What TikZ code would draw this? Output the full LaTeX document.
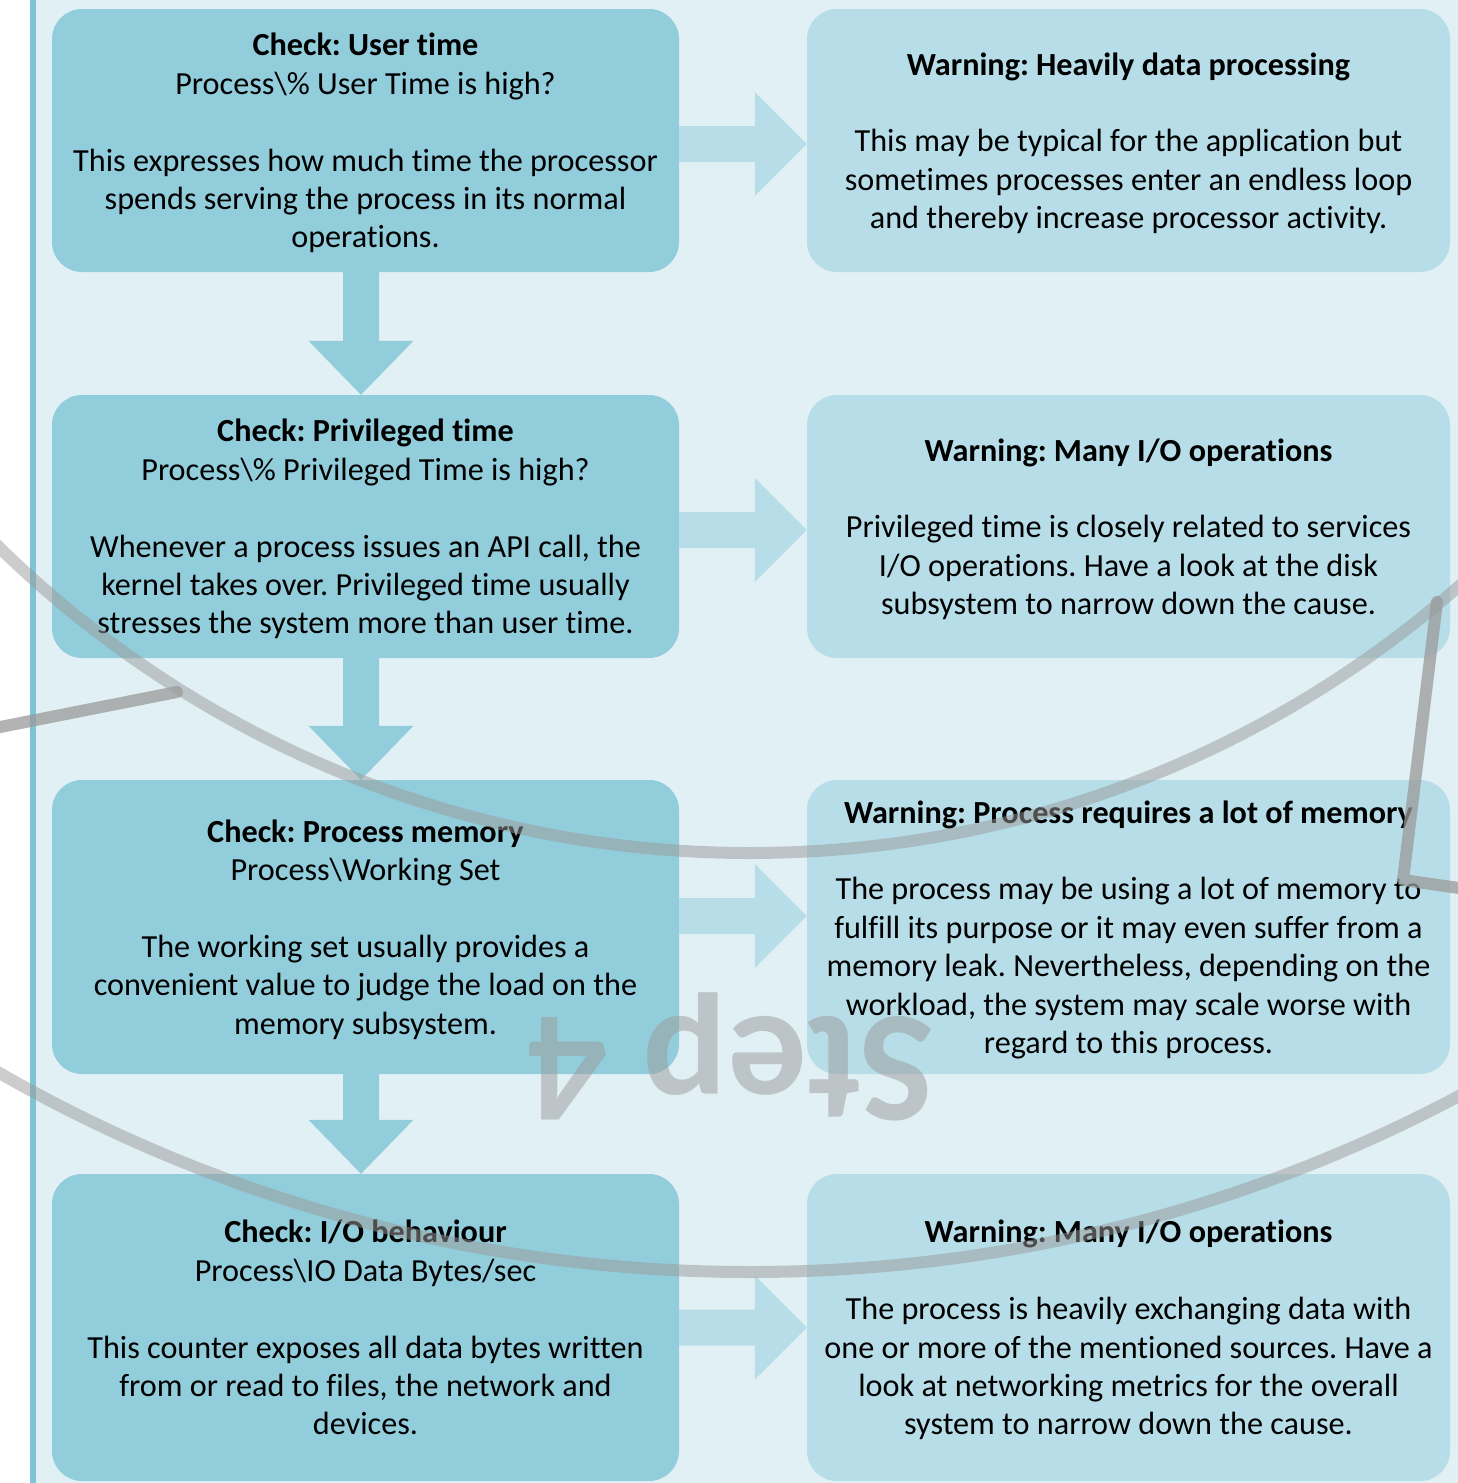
\documentclass[tikz,border=0pt]{standalone}
\usepackage{fontspec}
\setmainfont{Carlito}[Ligatures=NoCommon]
\frenchspacing
\usetikzlibrary{calc}
\definecolor{panel}{HTML}{E1F0F5}
\definecolor{edgebar}{HTML}{7FC4D4}
\definecolor{checkfill}{HTML}{92CDDC}
\definecolor{warnfill}{HTML}{B7DEE8}
\definecolor{overlay}{HTML}{9A9A9A}
% fixed height/depth so every text block sits the same way in its box
\newcommand\boxtopstrut{\rule{0pt}{28.5pt}}
\newcommand\boxbotstrut{\rule[-5.9pt]{0pt}{5.9pt}}

\begin{document}
\begin{tikzpicture}[x=1pt,y=-1pt,
  box/.style={rounded corners=30pt, inner sep=0pt, align=center,
    font=\fontsize{32.2}{38.4}\selectfont, text=black},
  checkbox/.style={box, fill=checkfill, minimum width=627pt},
  warnbox/.style={box, fill=warnfill, minimum width=643pt},
  rarrow/.style={fill=warnfill},
  darrow/.style={fill=checkfill},
  swoop/.style={draw=overlay, draw opacity=0.5, line width=12pt},
  frameline/.style={draw=overlay, draw opacity=0.75, line width=12pt,
    line cap=round, line join=round},
]
\useasboundingbox (0,0) rectangle (1458,1483);
\fill[white] (0,0) rectangle (1458,1483);
\fill[panel] (36,0) rectangle (1458,1483);
\fill[edgebar] (30,0) rectangle (36,1483);

% checks (left column)
\node[checkbox, minimum height=263pt] (L1) at (365.5,140.5)
  {\boxtopstrut\textbf{Check: User time}\\Process\textbackslash\% User Time is high?\\[38.4pt]
   This expresses how much time the processor\\spends serving the process in its normal\\operations.\boxbotstrut};
\node[checkbox, minimum height=263pt] (L2) at (365.5,526.5)
  {\boxtopstrut\textbf{Check: Privileged time}\\Process\textbackslash\% Privileged Time is high?\\[38.4pt]
   Whenever a process issues an API call, the\\kernel takes over. Privileged time usually\\stresses the system more than user time.\boxbotstrut};
\node[checkbox, minimum height=294pt] (L3) at (365.5,927)
  {\boxtopstrut\textbf{Check: Process memory}\\Process\textbackslash Working Set\\[38.4pt]
   The working set usually provides a\\convenient value to judge the load on the\\memory subsystem.\boxbotstrut};
\node[checkbox, minimum height=307pt] (L4) at (365.5,1327.5)
  {\boxtopstrut\textbf{Check: I/O behaviour}\\Process\textbackslash IO Data Bytes/sec\\[38.4pt]
   This counter exposes all data bytes written\\from or read to files, the network and\\devices.\boxbotstrut};

% warnings (right column)
\node[warnbox, minimum height=263pt] (R1) at (1128.5,140.5)
  {\boxtopstrut\textbf{Warning: Heavily data processing}\\[38.4pt]
   This may be typical for the application but\\sometimes processes enter an endless loop\\and thereby increase processor activity.\boxbotstrut};
\node[warnbox, minimum height=263pt] (R2) at (1128.5,526.5)
  {\boxtopstrut\textbf{Warning: Many I/O operations}\\[38.4pt]
   Privileged time is closely related to services\\I/O operations. Have a look at the disk\\subsystem to narrow down the cause.\boxbotstrut};
\node[warnbox, minimum height=294pt] (R3) at (1128.5,927)
  {\boxtopstrut\textbf{Warning: Process requires a lot of memory}\\[38.4pt]
   The process may be using a lot of memory to\\fulfill its purpose or it may even suffer from a\\memory leak. Nevertheless, depending on the\\workload, the system may scale worse with\\regard to this process.\boxbotstrut};
\node[warnbox, minimum height=307pt] (R4) at (1128.5,1327.5)
  {\boxtopstrut\textbf{Warning: Many I/O operations}\\[38.4pt]
   The process is heavily exchanging data with\\one or more of the mentioned sources. Have a\\look at networking metrics for the overall\\system to narrow down the cause.\boxbotstrut};

% block arrows: check -> warning
\foreach \a/\b/\s in {L1/R1/-3.5pt, L2/R2/-3.5pt, L3/R3/11pt, L4/R4/0pt}{
  \fill[rarrow] let \p1=([yshift=\s]\a.east), \p2=([yshift=\s]\b.west) in
    (\x1,\y1+18pt) -- (\x2-52pt,\y1+18pt) -- (\x2-52pt,\y1+52pt) -- (\p2)
    -- (\x2-52pt,\y1-52pt) -- (\x2-52pt,\y1-18pt) -- (\x1,\y1-18pt) -- cycle;
}
% block arrows: check -> next check
\foreach \a/\b in {L1/L2, L2/L3, L3/L4}{
  \fill[darrow] let \p1=([xshift=-4.5pt]\a.south), \p2=([xshift=-4.5pt]\b.north) in
    (\x1-18pt,\y1) -- (\x1-18pt,\y2+54pt) -- (\x1-52.5pt,\y2+54pt) -- (\p2)
    -- (\x1+52.5pt,\y2+54pt) -- (\x1+18pt,\y2+54pt) -- (\x1+18pt,\y1) -- cycle;
}

% translucent decoration on top
\begin{scope}
  \clip (0,0) rectangle (1458,1483);
  \draw[swoop] (750,-222) circle[radius=1075pt];
  \draw[swoop] (750,-241) circle[radius=1513pt];
  \draw[frameline] (-20,731) -- (177,692);
  \draw[frameline] (1437,602) -- (1403,880) -- (1480,891);
  \node[rotate=180, anchor=base, inner sep=0pt, text=overlay, text opacity=0.5,
    font=\fontsize{158}{190}\selectfont\bfseries] (stepmark) at (731,1017) {Step 4};
\end{scope}
\end{tikzpicture}
\end{document}
